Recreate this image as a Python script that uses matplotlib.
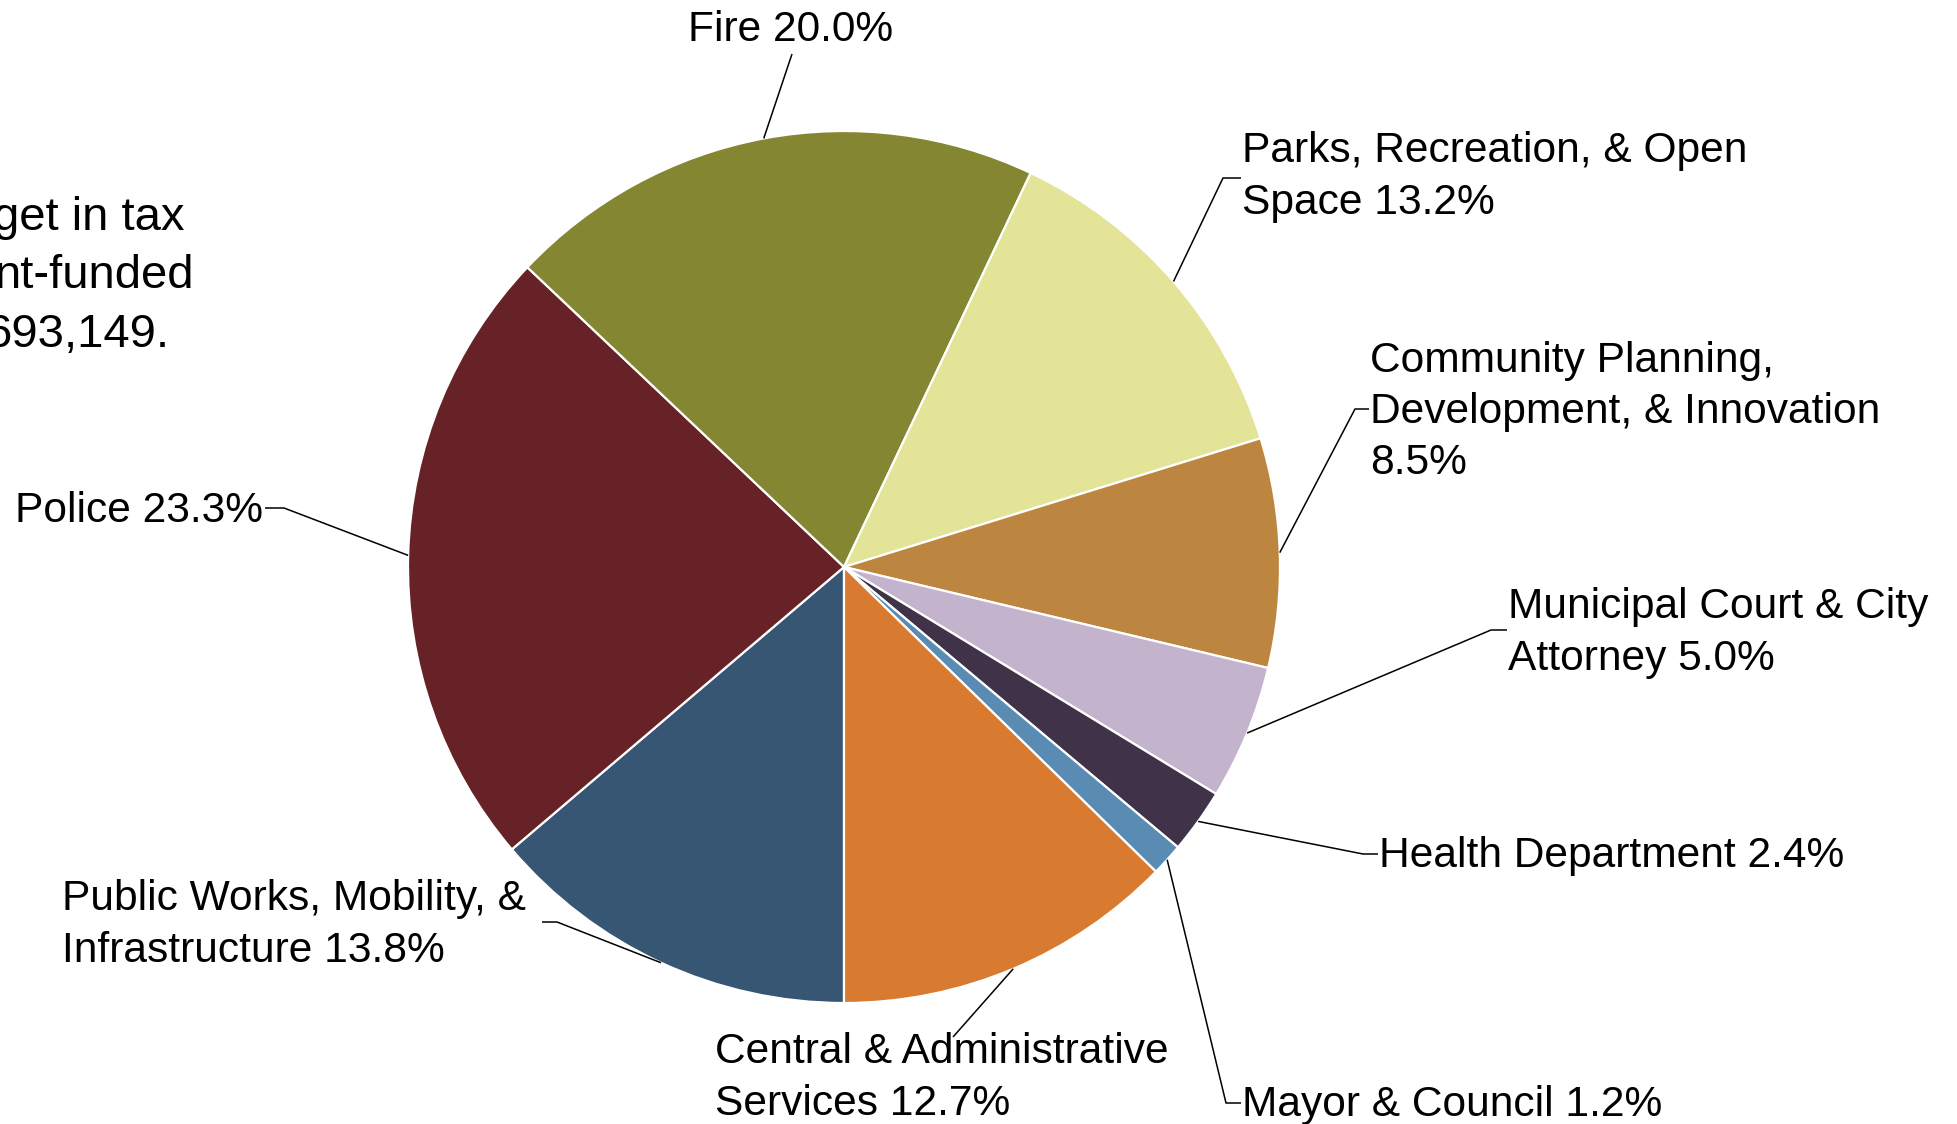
import matplotlib
matplotlib.use("Agg")
import matplotlib.pyplot as plt
import numpy as np

plt.rcParams['font.family'] = ['Liberation Sans', 'DejaVu Sans']

# Данные: отделы и доли бюджета (по часовой стрелке от низа круга)
departments = ['Public Works, Mobility, &\nInfrastructure',
               'Police',
               'Fire',
               'Parks, Recreation, & Open\nSpace',
               'Community Planning,\nDevelopment, & Innovation',
               'Municipal Court & City\nAttorney',
               'Health Department',
               'Mayor & Council',
               'Central & Administrative\nServices']
shares = [13.8, 23.3, 20.0, 13.2, 8.5, 5.0, 2.4, 1.2, 12.7]
pct_sep = [' ', ' ', ' ', ' ', '\n', ' ', ' ', ' ', ' ']
colors = ['#375673', '#662226', '#848632', '#E3E498', '#BC8641',
          '#C3B3CD', '#3F3249', '#5A8CB3', '#D87A30']

W, H = 1957, 1124
fig = plt.figure(figsize=(W / 100, H / 100), dpi=100)
ax = fig.add_axes([0, 0, 1, 1])

cx, cy, R = 844, 567, 436
# ось y перевёрнута, поэтому startangle=90 -> низ, counterclock -> по часовой
wedges, _ = ax.pie(shares, colors=colors, startangle=90, counterclock=True,
                   center=(cx, cy), radius=R,
                   wedgeprops=dict(edgecolor='white', linewidth=1.6))
ax.set_xlim(0, W)
ax.set_ylim(H, 0)
ax.set_aspect('equal')
ax.axis('off')

# положение подписей: (x, y, ha, точки выноски от текста к кругу)
label_pos = [
    (62, 925, 'left', [(542, 922), (557, 922)]),
    (263, 511, 'right', [(265, 508), (284, 508)]),
    (791, 30, 'center', [(792, 54)]),
    (1242, 177, 'left', [(1241, 178), (1223, 178)]),
    (1370, 412, 'left', [(1369, 409), (1355, 409)]),
    (1508, 633, 'left', [(1507, 630), (1491, 630)]),
    (1379, 856, 'left', [(1378, 854), (1363, 854)]),
    (1242, 1105, 'left', [(1241, 1103), (1226, 1103)]),
    (715, 1078, 'left', [(953, 1037)]),
]

for w, name, val, sep, (tx, ty, ha, pts) in zip(wedges, departments, shares, pct_sep, label_pos):
    ax.text(tx, ty, f'{name}{sep}{val:.1f}%', fontsize=30.6, ha=ha, va='center',
            linespacing=1.37, color='black')
    mid = np.deg2rad((w.theta1 + w.theta2) / 2)
    rim = (cx + R * np.cos(mid), cy + R * np.sin(mid))
    xs = [p[0] for p in pts] + [rim[0]]
    ys = [p[1] for p in pts] + [rim[1]]
    ax.plot(xs, ys, color='black', lw=1.1, solid_capstyle='butt')

# обрезанный слева текст
ax.text(-7, 230, 'get in tax', fontsize=34, ha='left', va='baseline')
ax.text(-5, 288, 'nt-funded', fontsize=34, ha='left', va='baseline')
ax.text(-14, 347, '693,149.', fontsize=34, ha='left', va='baseline')

fig.savefig('out.png', dpi=100)
